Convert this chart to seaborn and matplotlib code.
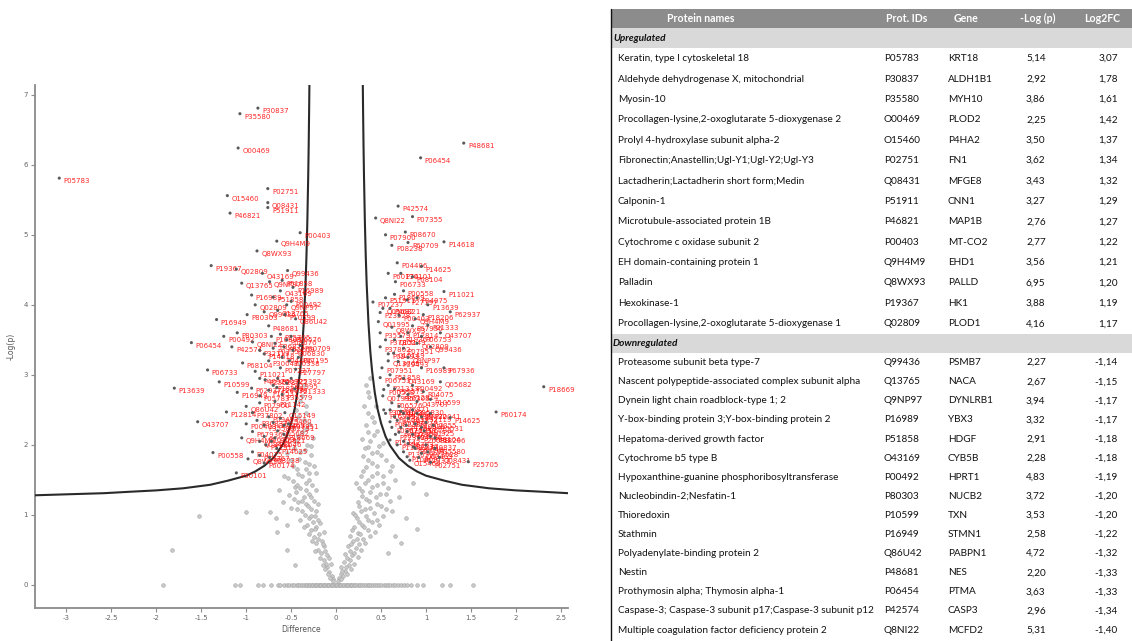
import numpy as np
import pandas as pd
import matplotlib
matplotlib.use("Agg")
import matplotlib.pyplot as plt
import seaborn as sns
from matplotlib.patches import Rectangle

# ---------------- volcano data ----------------
x_ticks = [-3, -2.5, -2, -1.5, -1, -0.5, 0, 0.5, 1, 1.5, 2, 2.5]
x_tick_labels = ["-3", "-2.5", "-2", "-1.5", "-1", "-0.5", "0", "0.5", "1", "1.5", "2", "2.5"]
y_ticks = [0, 1, 2, 3, 4, 5, 6, 7]
y_tick_labels = ["0", "1", "2", "3", "4", "5", "6", "7"]

# threshold curve (right branch; left branch mirrored)
curve_x = [0.297, 0.30, 0.305, 0.31, 0.32, 0.33, 0.34, 0.36, 0.38, 0.40, 0.43, 0.46, 0.50,
           0.55, 0.60, 0.70, 0.80, 0.90, 1.00, 1.20, 1.40, 1.70, 2.00, 2.30, 2.58, 3.35]
curve_y = [7.15, 6.79, 6.28, 5.86, 5.19, 4.69, 4.30, 3.74, 3.34, 3.06, 2.75, 2.52, 2.31,
           2.12, 1.99, 1.81, 1.70, 1.62, 1.56, 1.49, 1.43, 1.38, 1.35, 1.33, 1.31, 1.28]

# grey (non-significant) points with -log p = 0
grey_zero_x = [-1.93, -1.13, -1.07, -0.87, -0.81, -0.72, -0.65, -0.62, -0.58, -0.55, -0.52, -0.49,
               -0.47, -0.44, -0.42, -0.40, -0.38, -0.36, -0.34, -0.32, -0.30, -0.285, -0.27,
               -0.255, -0.24, -0.225, -0.21, -0.195, -0.18, -0.165, -0.15, -0.135, -0.12, -0.105,
               -0.09, -0.075, -0.06, -0.045, -0.03, -0.015, 0.0, 0.015, 0.03, 0.045, 0.06, 0.075,
               0.09, 0.105, 0.12, 0.135, 0.15, 0.165, 0.18, 0.195, 0.21, 0.23, 0.25, 0.27, 0.29,
               0.31, 0.33, 0.35, 0.37, 0.39, 0.41, 0.43, 0.45, 0.48, 0.50, 0.53, 0.55, 0.58, 0.60,
               0.63, 0.66, 0.69, 0.72, 0.75, 0.79, 0.83, 0.90, 0.97, 1.18, 1.27, 1.52]
# grey points of the V
grey_x = [-0.05, -0.08, -0.03, -0.10, -0.06, -0.12, -0.14, -0.10, -0.17, -0.20, -0.13, -0.22, -0.16,
          -0.25, -0.19, -0.28, -0.22, -0.32, -0.26, -0.18, -0.30, -0.35, -0.24, -0.38, -0.28, -0.33,
          -0.42, -0.25, -0.36, -0.30, -0.45, -0.40, -0.27, -0.34, -0.48, -0.38, -0.30, -0.44, -0.25,
          -0.35, -0.50, -0.28, -0.40, -0.32, -0.45, -0.26, -0.38, -0.30, -0.42, -0.33, -0.38,
          -1.52, -1.00, -1.83, -0.74, -0.67, -0.66, -0.55, -0.46, -0.63, -0.59, -0.46, -0.55, -0.50,
          -0.58,
          -0.04, -0.07, -0.09, -0.11, -0.15, -0.08, -0.18, -0.12, -0.24, -0.15, -0.27, -0.20, -0.30,
          -0.14, -0.24, -0.36, -0.20, -0.40, -0.28, -0.22, -0.43, -0.31, -0.20, -0.38, -0.47, -0.28,
          -0.52, -0.34, -0.22, -0.44, -0.30, -0.53, -0.42, -0.22, -0.34, -0.48, -0.30, -0.41, -0.55,
          -0.35, -0.47, -0.28, -0.42, -0.33, -0.48, -0.36, -0.45, -0.34, -0.40, -0.36,
          0.03, 0.06, 0.10, 0.05, 0.14, 0.09, 0.12, 0.18, 0.15, 0.22, 0.13, 0.26, 0.19,
          0.30, 0.16, 0.24, 0.35, 0.20, 0.29, 0.40, 0.23, 0.33, 0.45,
          0.19, 0.28, 0.38, 0.50, 0.24, 0.33, 0.44, 0.56, 0.29, 0.40, 0.22, 0.52, 0.35,
          0.28, 0.46, 0.60, 0.33, 0.40, 0.55, 0.30, 0.45, 0.36, 0.52, 0.29, 0.42,
          0.33, 0.40, 0.31, 0.37, 0.33,
          0.62, 0.70, 0.78, 0.65, 0.85, 0.58, 0.72, 1.00, 0.90,
          0.02, 0.05, 0.08, 0.12, 0.07, 0.17, 0.11, 0.20, 0.15, 0.24, 0.10, 0.20, 0.28, 0.17, 0.32,
          0.23, 0.38, 0.27, 0.43, 0.18, 0.31, 0.48, 0.26, 0.36, 0.52, 0.21, 0.42, 0.32, 0.55, 0.26,
          0.46, 0.37, 0.60, 0.29, 0.49, 0.38, 0.25, 0.58, 0.45, 0.32, 0.65, 0.40, 0.52, 0.30, 0.62,
          0.45, 0.36, 0.50, 0.40, 0.32, 0.48, 0.38, 0.46, 0.36, 0.42, 0.36, 0.44, 0.35, 0.38]
grey_y = [0.12, 0.18, 0.08, 0.25, 0.30, 0.22, 0.35, 0.42, 0.45, 0.50, 0.55, 0.60, 0.62,
          0.68, 0.72, 0.78, 0.82, 0.85, 0.90, 0.88, 0.95, 1.00, 0.98, 1.05, 1.08, 1.15,
          1.18, 1.20, 1.25, 1.30, 1.32, 1.38, 1.42, 1.45, 1.48, 1.55, 1.60, 1.65, 1.70,
          1.75, 1.78, 1.85, 1.90, 2.00, 2.05, 2.10, 2.18, 2.30, 2.40, 2.55, 2.70,
          0.99, 1.04, 0.50, 1.04, 0.96, 0.76, 0.50, 0.29, 1.36, 1.19, 1.40, 0.85, 1.10,
          1.55,
          0.05, 0.10, 0.15, 0.30, 0.28, 0.38, 0.38, 0.48, 0.48, 0.58, 0.62, 0.66, 0.72,
          0.75, 0.80, 0.82, 0.92, 0.92, 0.99, 1.06, 1.08, 1.12, 1.15, 1.20, 1.22, 1.25,
          1.28, 1.35, 1.35, 1.42, 1.50, 1.52, 1.58, 1.60, 1.65, 1.70, 1.72, 1.80, 1.88,
          1.92, 1.95, 1.98, 2.12, 2.22, 2.25, 2.35, 2.50, 2.45, 2.62, 2.85,
          0.10, 0.15, 0.20, 0.25, 0.28, 0.32, 0.38, 0.42, 0.48, 0.52, 0.55, 0.58, 0.62,
          0.66, 0.70, 0.74, 0.78, 0.82, 0.86, 0.90, 0.95, 0.98, 0.93,
          1.02, 1.06, 1.10, 1.12, 1.18, 1.22, 1.26, 1.30, 1.34, 1.40, 1.45, 1.46, 1.50,
          1.56, 1.60, 1.62, 1.68, 1.74, 1.78, 1.84, 1.90, 1.97, 2.02, 2.08, 2.14,
          2.28, 2.40, 2.55, 2.68, 2.85,
          1.05, 1.25, 0.95, 0.70, 1.45, 0.45, 0.60, 1.30, 0.80,
          0.05, 0.08, 0.12, 0.15, 0.20, 0.22, 0.26, 0.30, 0.35, 0.40, 0.44, 0.46, 0.50, 0.58, 0.60,
          0.65, 0.70, 0.72, 0.76, 0.78, 0.82, 0.85, 0.90, 0.93, 0.98, 1.00, 1.03, 1.08, 1.08, 1.13,
          1.16, 1.20, 1.20, 1.27, 1.30, 1.33, 1.38, 1.38, 1.43, 1.46, 1.50, 1.55, 1.55, 1.62, 1.70,
          1.70, 1.78, 1.85, 1.88, 1.95, 1.98, 2.05, 2.20, 2.18, 2.32, 2.45, 2.55, 2.75, 2.95]

# red (significant) points, left (negative difference)
red_left_x = [-3.08, -0.87, -1.07, -1.09, -1.21, -0.76, -0.76, -0.76, -1.18, -0.40, -0.66, -0.88, -1.39,
              -1.11, -0.54, -1.05, -0.74, -0.94, -0.70, -0.62, -0.50, -0.99, -0.57, -1.33, -0.45, -0.75,
              -1.61, -1.16, -0.93, -0.70, -0.55, -0.40, -0.80, -0.60, -1.43, -1.04, -0.90, -0.62, -0.45,
              -1.80, -0.94, -0.79, -0.70, -0.55, -0.46, -0.60, -1.22, -1.54, -0.93, -0.57, -0.75, -0.53,
              -0.93, -0.80, -0.65, -0.58, -1.37, -0.93, -0.80, -1.11, -0.66, -0.74, -0.85, -0.68, -0.72,
              -0.72, -0.62, -0.50, -0.68, -0.58, -0.48, -0.85, -0.75, -0.52, -0.42,
              -0.85, -0.65, -0.75, -0.50, -0.66, -0.85,
              -0.88, -0.80, -0.70, -0.62, -0.58, -0.85, -0.78, -0.68,
              -1.00, -1.05, -0.98, -0.85, -0.90, -0.80, -0.65, -0.55, -0.48, -0.60, -0.82,
              -1.25, -1.10, -1.30, -1.10, -1.00]
red_left_y = [5.81, 6.81, 6.73, 6.24, 5.56, 5.66, 5.46, 5.39, 5.31, 5.03, 4.91, 4.77, 4.56,
              4.51, 4.49, 4.31, 4.33, 4.14, 4.11, 4.20, 4.05, 3.86, 3.86, 3.79, 3.80, 3.70,
              3.46, 3.40, 3.47, 3.38, 3.50, 3.42, 3.30, 3.25, 3.07, 3.17, 3.05, 3.10, 3.08,
              2.81, 2.81, 2.93, 2.85, 2.88, 2.80, 2.72, 2.47, 2.33, 2.46, 2.46, 2.40, 2.30,
              2.19, 2.12, 2.20, 2.15, 1.89, 1.90, 1.74, 1.60, 1.95, 1.82, 2.60, 2.62, 2.05,
              3.55, 3.58, 3.55, 3.45, 3.40, 3.35, 3.35, 3.20, 3.20, 3.25,
              2.95, 2.95, 2.78, 2.95, 2.82, 2.70,
              2.35, 2.28, 2.32, 2.38, 2.28, 2.05, 2.00, 2.10,
              2.30, 2.10, 1.80, 1.85, 4.00, 3.90, 3.92, 4.00, 4.25, 4.35, 4.45,
              3.55, 3.60, 2.90, 2.75, 2.55]
# red points, right (positive difference)
red_right_x = [1.42, 0.94, 0.69, 0.44, 0.85, 0.77, 0.80, 1.20, 0.68, 0.66, 0.85, 1.20, 0.41, 0.79,
               1.02, 1.27, 0.49, 0.97, 0.47, 1.02, 0.49, 0.80, 1.16, 0.49, 0.64, 0.69, 0.51, 1.20,
               0.49, 1.16, 2.31, 0.53, 0.97, 1.78, 0.53, 1.27, 0.60, 0.79, 0.60, 0.86, 0.79, 1.47,
               0.62, 0.70, 0.75, 0.85, 0.95, 1.05, 0.68, 0.72, 0.88, 0.98, 1.08, 0.66, 0.92, 0.75,
               1.00, 1.10, 0.95, 0.82, 1.05, 1.15,
               0.55, 0.60, 0.70, 0.88, 0.62, 0.72, 0.90, 1.05, 0.58, 0.80, 0.95, 0.60, 0.75, 0.85,
               0.70, 1.05,
               0.55, 0.60, 0.65, 0.72, 0.80, 0.90, 1.00, 0.62, 0.70, 0.78, 0.85, 0.95, 1.05, 0.68,
               0.80, 0.88, 0.75, 0.92, 1.02, 1.10,
               0.52, 0.58, 0.65, 0.80, 0.90, 0.55, 0.65, 0.58, 0.75, 0.85, 0.95, 0.52, 0.65, 0.75,
               0.90, 0.58, 0.72, 0.95, 0.62, 0.55]
red_right_y = [6.31, 6.10, 5.41, 5.24, 5.26, 5.04, 4.89, 4.90, 4.60, 4.33, 4.40, 4.19, 4.04, 4.07,
               4.00, 3.90, 3.89, 3.86, 3.76, 3.71, 3.60, 3.60, 3.60, 3.40, 3.31, 3.19, 3.10, 3.10,
               2.96, 2.90, 2.83, 2.79, 2.76, 2.47, 2.50, 2.39, 2.33, 2.19, 2.07, 1.97, 1.83, 1.76,
               2.60, 2.55, 2.45, 2.50, 2.40, 2.45, 2.35, 2.25, 2.30, 2.20, 2.28, 2.15, 2.10, 2.05,
               2.00, 1.95, 1.88, 1.78, 1.75, 1.82,
               4.10, 3.95, 3.85, 3.80, 3.68, 3.55, 3.45, 3.40, 3.20, 3.25, 3.10, 3.00, 2.95, 2.85,
               2.70, 2.65,
               2.45, 2.50, 2.40, 2.48, 2.38, 2.45, 2.32, 2.25, 2.18, 2.28, 2.15, 2.25, 2.12, 2.00,
               2.02, 1.95, 1.90, 1.82, 1.90, 2.10,
               2.70, 2.85, 2.80, 2.72, 2.62, 3.50, 3.50, 3.30, 3.38, 3.70, 3.55, 3.95, 4.15, 4.20,
               4.10, 4.45, 4.45, 4.55, 4.85, 5.00]
point_ids = ["P05783", "P30837", "P35580", "O00469", "O15460", "P02751", "Q08431", "P51911", "P46821",
             "P00403", "Q9H4M9", "Q8WX93", "P19367", "Q02809", "Q99436", "Q13765", "Q9NP97", "P16989",
             "P51858", "O43169", "P00492", "P80303", "P10599", "P16949", "Q86U42", "P48681", "P06454",
             "P42574", "Q8NI22", "P07355", "P08670", "P60709", "P14618", "P04406", "P06733", "P68104",
             "P11021", "P07237", "P27797", "P13639", "P62937", "P23528", "P18206", "Q01995", "P21333",
             "P35579", "P12814", "O43707", "P37802", "Q15149", "P09493", "P07951", "P67936", "P06753",
             "Q05682", "P18669", "P00558", "P04075", "P60174", "P30101", "P14625", "P08238", "P07900",
             "P11142", "P38646", "P10809", "P25705", "P06576", "P36871", "P52209", "Q06830", "P32119",
             "P30041", "P00338", "P07195", "P40926", "P40925", "P15531", "P22392", "P26038"]

# ---------------- table data ----------------
up_names = ["Keratin, type I cytoskeletal 18", "Aldehyde dehydrogenase X, mitochondrial", "Myosin-10",
            "Procollagen-lysine,2-oxoglutarate 5-dioxygenase 2", "Prolyl 4-hydroxylase subunit alpha-2",
            "Fibronectin;Anastellin;Ugl-Y1;Ugl-Y2;Ugl-Y3", "Lactadherin;Lactadherin short form;Medin",
            "Calponin-1", "Microtubule-associated protein 1B", "Cytochrome c oxidase subunit 2",
            "EH domain-containing protein 1", "Palladin", "Hexokinase-1",
            "Procollagen-lysine,2-oxoglutarate 5-dioxygenase 1"]
up_ids = ["P05783", "P30837", "P35580", "O00469", "O15460", "P02751", "Q08431", "P51911", "P46821",
          "P00403", "Q9H4M9", "Q8WX93", "P19367", "Q02809"]
up_genes = ["KRT18", "ALDH1B1", "MYH10", "PLOD2", "P4HA2", "FN1", "MFGE8", "CNN1", "MAP1B", "MT-CO2",
            "EHD1", "PALLD", "HK1", "PLOD1"]
up_logp = [5.14, 2.92, 3.86, 2.25, 3.50, 3.62, 3.43, 3.27, 2.76, 2.77, 3.56, 6.95, 3.88, 4.16]
up_fc = [3.07, 1.78, 1.61, 1.42, 1.37, 1.34, 1.32, 1.29, 1.27, 1.22, 1.21, 1.20, 1.19, 1.17]

down_names = ["Proteasome subunit beta type-7", "Nascent polypeptide-associated complex subunit alpha",
              "Dynein light chain roadblock-type 1; 2", "Y-box-binding protein 3;Y-box-binding protein 2",
              "Hepatoma-derived growth factor", "Cytochrome b5 type B",
              "Hypoxanthine-guanine phosphoribosyltransferase", "Nucleobindin-2;Nesfatin-1", "Thioredoxin",
              "Stathmin", "Polyadenylate-binding protein 2", "Nestin", "Prothymosin alpha; Thymosin alpha-1",
              "Caspase-3; Caspase-3 subunit p17;Caspase-3 subunit p12",
              "Multiple coagulation factor deficiency protein 2"]
down_ids = ["Q99436", "Q13765", "Q9NP97", "P16989", "P51858", "O43169", "P00492", "P80303", "P10599",
            "P16949", "Q86U42", "P48681", "P06454", "P42574", "Q8NI22"]
down_genes = ["PSMB7", "NACA", "DYNLRB1", "YBX3", "HDGF", "CYB5B", "HPRT1", "NUCB2", "TXN", "STMN1",
              "PABPN1", "NES", "PTMA", "CASP3", "MCFD2"]
down_logp = [2.27, 2.67, 3.94, 3.32, 2.91, 2.28, 4.83, 3.72, 3.53, 2.58, 4.72, 2.20, 3.63, 2.96, 5.31]
down_fc = [-1.14, -1.15, -1.17, -1.17, -1.18, -1.18, -1.19, -1.20, -1.20, -1.22, -1.32, -1.33, -1.33,
           -1.34, -1.40]
header_labels = ["Protein names", "Prot. IDs", "Gene", "-Log (p)", "Log2FC"]

# ---------------- figure ----------------
sns.set_theme(style="white")
plt.rcParams["font.family"] = ["DejaVu Sans"]
W, H = 1132, 641
fig = plt.figure(figsize=(W / 100, H / 100), dpi=100)
fig.patch.set_facecolor("white")

ax_l, ax_r, ax_t, ax_b = 35, 568, 85, 608
ax = fig.add_axes([ax_l / W, (H - ax_b) / H, (ax_r - ax_l) / W, (ax_b - ax_t) / H])
ax.set_facecolor("white")

grey_df = pd.DataFrame({"x": grey_zero_x + grey_x,
                        "y": [0.0] * len(grey_zero_x) + grey_y})
red_x = red_left_x + red_right_x
red_y = red_left_y + red_right_y
red_labels = [point_ids[i % len(point_ids)] for i in range(len(red_x))]
red_df = pd.DataFrame({"x": red_x, "y": red_y, "label": red_labels})

sns.scatterplot(data=grey_df, x="x", y="y", ax=ax, s=7, color="#cacaca",
                edgecolor="#a2a2a2", linewidth=0.4, legend=False, zorder=2)
sns.lineplot(x=curve_x, y=curve_y, ax=ax, color="#2a2a2a", lw=1.5, sort=False,
             estimator=None, zorder=3)
sns.lineplot(x=[-v for v in curve_x], y=curve_y, ax=ax, color="#2a2a2a", lw=1.5,
             sort=False, estimator=None, zorder=3)
for _, r in red_df.iterrows():
    ax.annotate(r["label"], (r["x"], r["y"]), xytext=(3.0, -2.4), textcoords="offset points",
                fontsize=5.0, color="#ff0000", alpha=0.85, ha="left", va="center", zorder=4)
sns.scatterplot(data=red_df, x="x", y="y", ax=ax, s=5, color="#5a5a5a", edgecolor="none",
                legend=False, zorder=5)

ax.set_xlim(-3.35, 2.58)
ax.set_ylim(-0.33, 7.14)
ax.set_xticks(x_ticks)
ax.set_xticklabels(x_tick_labels)
ax.set_yticks(y_ticks)
ax.set_yticklabels(y_tick_labels)
for s in ["top", "right"]:
    ax.spines[s].set_visible(False)
for s in ["left", "bottom"]:
    ax.spines[s].set_color("#8a8a8a")
    ax.spines[s].set_linewidth(1.3)
ax.tick_params(direction="out", length=3, width=0.8, colors="#8a8a8a", labelcolor="#666666",
               labelsize=5, pad=2, left=True, bottom=True)
ax.set_xlabel("Difference", fontsize=5.5, color="#555555", labelpad=3)
ax.set_ylabel("-Log(p)", fontsize=5.5, color="#555555", labelpad=6)
ax.grid(False)

# ---------------- table ----------------
tax = fig.add_axes([0, 0, 1, 1], zorder=10)
tax.set_xlim(0, W)
tax.set_ylim(H, 0)
tax.axis("off")
tax.patch.set_visible(False)

tfont = ["Lato", "DejaVu Sans"]
t_left = 611
head_top, head_bot = 9, 28
up_row_h = 20.4
down_row_h = 19.1
col_name, col_id, col_gene, col_logp, col_fc = 618, 884, 948, 1026, 1118
head_centers = [701, 907, 966, 1038, 1102]

tax.add_patch(Rectangle((t_left, head_top), W - t_left, head_bot - head_top,
                        facecolor="#8c8c8c", edgecolor="none"))
for lab, cx in zip(header_labels, head_centers):
    tax.text(cx, (head_top + head_bot) / 2, lab, ha="center", va="center", color="white",
             fontsize=7.6, fontweight="bold", family=tfont)

name_clip = Rectangle((t_left, 0), col_id - 3 - t_left, H, transform=tax.transData)


def fmt(v):
    return f"{v:.2f}".replace(".", ",")


def section(top, row_h, title, names, ids, genes, logp, fc):
    tax.add_patch(Rectangle((t_left, top), W - t_left, row_h, facecolor="#d9d9d9",
                            edgecolor="none"))
    tax.text(t_left + 2, top + row_h / 2, title, ha="left", va="center", fontsize=7.2,
             fontweight="bold", fontstyle="italic", color="#111111", family=tfont)
    for i in range(len(names)):
        cy = top + (1 + i) * row_h + row_h / 2
        t = tax.text(col_name, cy, names[i], ha="left", va="center", fontsize=7.2,
                     color="#111111", family=tfont)
        t.set_clip_path(name_clip)
        tax.text(col_id, cy, ids[i], ha="left", va="center", fontsize=7.2, color="#111111",
                 family=tfont)
        tax.text(col_gene, cy, genes[i], ha="left", va="center", fontsize=7.2, color="#111111",
                 family=tfont)
        tax.text(col_logp, cy, fmt(logp[i]), ha="left", va="center", fontsize=7.2,
                 color="#111111", family=tfont)
        tax.text(col_fc, cy, fmt(fc[i]), ha="right", va="center", fontsize=7.2,
                 color="#111111", family=tfont)
    return top + (1 + len(names)) * row_h


next_top = section(head_bot, up_row_h, "Upregulated", up_names, up_ids, up_genes, up_logp, up_fc)
section(next_top, down_row_h, "Downregulated", down_names, down_ids, down_genes, down_logp, down_fc)

tax.plot([t_left, t_left], [head_top, H], color="#111111", lw=1.0)

fig.savefig("out.png", dpi=100, facecolor="white")
